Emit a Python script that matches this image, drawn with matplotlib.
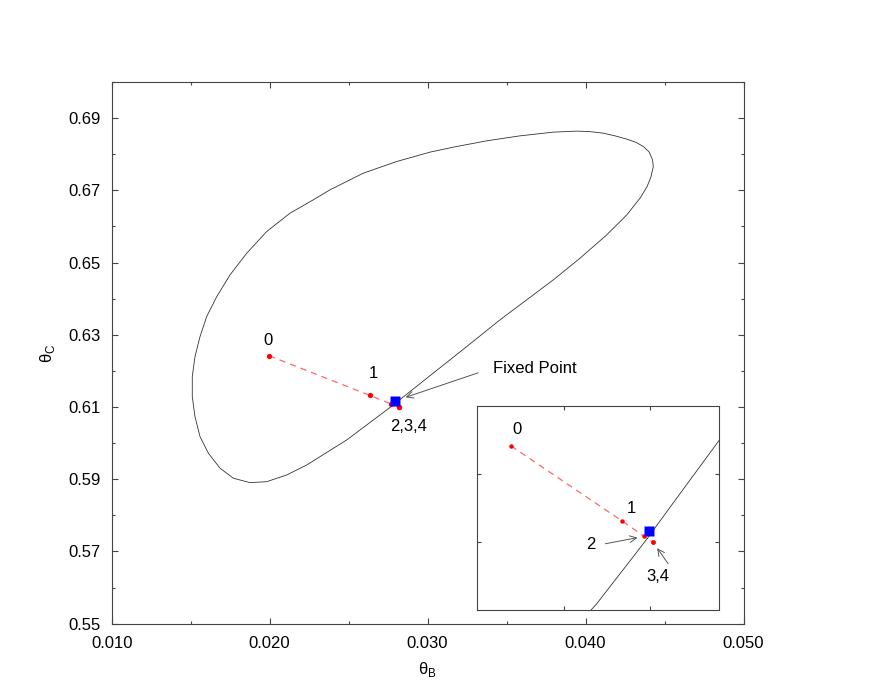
import numpy as np
import matplotlib
matplotlib.use('Agg')
import matplotlib.pyplot as plt
from matplotlib.ticker import MultipleLocator, FixedLocator, FormatStrFormatter

plt.rcParams['font.family'] = ['Liberation Sans', 'DejaVu Sans']
plt.rcParams['font.size'] = 12
plt.rcParams['mathtext.fontset'] = 'custom'
plt.rcParams['mathtext.rm'] = 'Liberation Sans'

# closed curve (theta_B, theta_C)
loop_b = [0.02783, 0.02909, 0.03015, 0.03237, 0.03458, 0.03627, 0.03796, 0.03965,
          0.04134, 0.04261, 0.04345, 0.04389, 0.04414, 0.04429, 0.04424, 0.04402,
          0.04366, 0.04319, 0.04261, 0.04186, 0.04112, 0.04028, 0.03944, 0.03796,
          0.03585, 0.03374, 0.03163, 0.03015, 0.02804, 0.02593, 0.02382, 0.02276,
          0.02129, 0.01981, 0.01855, 0.01749, 0.01665, 0.01601, 0.01559, 0.01527,
          0.01510, 0.01510, 0.01527, 0.01559, 0.01612, 0.01686, 0.01770, 0.01876,
          0.01981, 0.02108, 0.02235, 0.02319, 0.02488, 0.02699, 0.02783]
loop_c = [0.61058, 0.61499, 0.61867, 0.62637, 0.63413, 0.63967, 0.64521, 0.65122,
          0.65767, 0.66321, 0.66784, 0.67097, 0.67374, 0.67659, 0.67845, 0.68066,
          0.68213, 0.68330, 0.68418, 0.68509, 0.68584, 0.68626, 0.68640, 0.68612,
          0.68509, 0.68371, 0.68196, 0.68058, 0.67798, 0.67476, 0.67014, 0.66737,
          0.66368, 0.65859, 0.65260, 0.64659, 0.64058, 0.63504, 0.62950, 0.62396,
          0.61842, 0.61288, 0.60734, 0.60180, 0.59720, 0.59305, 0.59028, 0.58906,
          0.58933, 0.59119, 0.59396, 0.59626, 0.60089, 0.60781, 0.61058]

# iterates 0..4 (3 and 4 coincide) and the fixed point
iter_b = [0.01996, 0.02635, 0.02766, 0.02817, 0.02817]
iter_c = [0.6242, 0.6132, 0.6109, 0.6100, 0.6100]
fixed_b = 0.02794
fixed_c = 0.6117

RED = '#ff0000'
BLUE = '#0000ff'
FRAME = '#444444'


def style_axes(ax, major_len, minor_len):
    for sp in ax.spines.values():
        sp.set_color(FRAME)
        sp.set_linewidth(0.8)
    ax.tick_params(which='both', direction='in', top=True, right=True,
                   color=FRAME, width=0.8)
    ax.tick_params(which='major', length=major_len)
    ax.tick_params(which='minor', length=minor_len)


def draw_data(ax, dot_size):
    ax.plot(loop_b, loop_c, color='#333333', lw=0.6, zorder=2)
    ax.plot(iter_b, iter_c, color=RED, lw=0.9, alpha=0.6,
            dashes=(5, 4), zorder=3)
    ax.plot(iter_b, iter_c, 'o', color=RED, ms=dot_size, mec='none', zorder=4)
    ax.plot([fixed_b], [fixed_c], 's', color=BLUE, ms=7.2, mec='none', zorder=5)


fig = plt.figure(figsize=(8.96, 6.92), dpi=100)
ax = fig.add_axes([0.1247, 0.0987, 0.7051, 0.7828])

draw_data(ax, 3.8)
ax.set_xlim(0.010, 0.050)
ax.set_ylim(0.55, 0.70)
ax.xaxis.set_major_locator(MultipleLocator(0.010))
ax.xaxis.set_minor_locator(MultipleLocator(0.005))
ax.yaxis.set_major_locator(FixedLocator(np.arange(0.55, 0.695, 0.02)))
ax.yaxis.set_minor_locator(FixedLocator(np.arange(0.56, 0.705, 0.02)))
ax.xaxis.set_major_formatter(FormatStrFormatter('%.3f'))
ax.yaxis.set_major_formatter(FormatStrFormatter('%.2f'))
style_axes(ax, 4.3, 2.2)
ax.tick_params(axis='x', pad=9)
ax.tick_params(axis='y', pad=8)
ax.set_xlabel('θ$_{\\mathrm{B}}$', fontsize=12, labelpad=6)
ax.set_ylabel('θ$_{\\mathrm{C}}$', fontsize=12, labelpad=8)

# labels on the main panel
txt = dict(ha='center', va='center', fontsize=12, textcoords='offset points')
ax.annotate('0', (iter_b[0], iter_c[0]), xytext=(-0.5, 11.3), **txt)
ax.annotate('1', (iter_b[1], iter_c[1]), xytext=(2.4, 15.6), **txt)
ax.annotate('2,3,4', (iter_b[3], iter_c[3]), xytext=(6.9, -13.7), **txt)

arrow = dict(arrowstyle='->', color='#555555', lw=0.7, shrinkA=0, shrinkB=0)
fp = (fixed_b, fixed_c)
ax.annotate('', xy=fp, xytext=(59.8, 20.2), textcoords='offset points',
            arrowprops=dict(arrow, shrinkB=8))
ax.annotate('Fixed Point', fp, xytext=(70.8, 23), textcoords='offset points',
            ha='left', va='center', fontsize=12)

# inset zoom
ins = fig.add_axes([0.5324, 0.1178, 0.2706, 0.2948])
draw_data(ins, 3.2)
ins.set_xlim(0.018, 0.032)
ins.set_ylim(0.600, 0.630)
ins.set_xticks([0.023, 0.028])
ins.set_yticks([0.61, 0.62])
ins.set_xticklabels([])
ins.set_yticklabels([])
style_axes(ins, 3.0, 1.5)

ins.annotate('0', (iter_b[0], iter_c[0]), xytext=(4.5, 11.5), **txt)
ins.annotate('1', (iter_b[1], iter_c[1]), xytext=(6.7, 8.9), **txt)
ins.annotate('2', (iter_b[2], iter_c[2]), xytext=(-38.4, -6), **txt)
ins.annotate('3,4', (iter_b[3], iter_c[3]), xytext=(3.6, -24.5), **txt)
ins.annotate('', xy=(iter_b[2], iter_c[2]), xytext=(-28, -5.3),
             textcoords='offset points', arrowprops=dict(arrow, shrinkB=5))
ins.annotate('', xy=(iter_b[3], iter_c[3]), xytext=(10.8, -15.3),
             textcoords='offset points', arrowprops=dict(arrow, shrinkB=5))

fig.savefig('out.png', dpi=100)
